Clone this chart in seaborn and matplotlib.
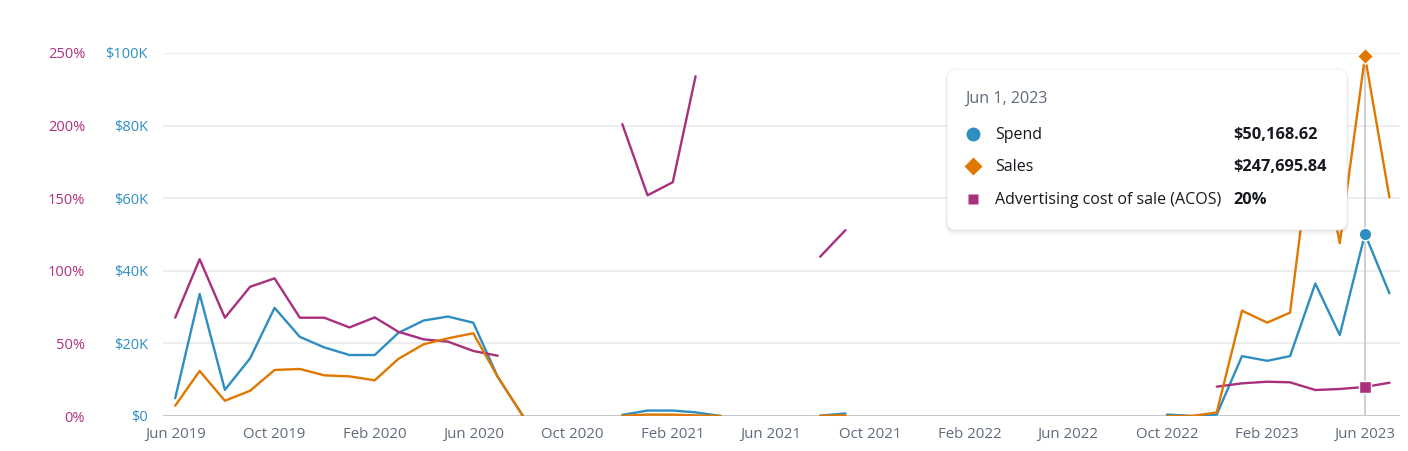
import numpy as np
import pandas as pd
import matplotlib
matplotlib.use("Agg")
import matplotlib.pyplot as plt
from matplotlib.patches import FancyBboxPatch
import seaborn as sns

# ── Data ──────────────────────────────────────────────────────────────────────
months = pd.date_range("2019-06-01", "2023-07-01", freq="MS")
nan = np.nan

spend = [
    4900, 33600, 7200, 15900, 29800, 21800, 18900, 16800, 16800, 22900,
    26300, 27400, 25700, 10800, 0,
    nan, nan, nan,
    300, 1500, 1500, 1000, 0,
    nan, nan, nan,
    100, 700,
    nan, nan, nan, nan, nan, nan, nan, nan, nan, nan, nan, nan,
    400, 0, 400, 16500, 15200, 16500, 36500, 22300, 50168.62, 33800,
]
sales = [
    7100, 31000, 10500, 17400, 31700, 32400, 28000, 27300, 24600, 39300,
    49400, 53500, 57000, 27000, 0,
    nan, nan, nan,
    150, 1000, 930, 430, 0,
    nan, nan, nan,
    100, 550,
    nan, nan, nan, nan, nan, nan, nan, nan, nan, nan, nan, nan,
    0, 0, 2500, 72500, 64300, 71200, 208000, 119000, 247695.84, 150600,
]
acos = [
    67.7, 108, 67.7, 89, 94.8, 67.7, 67.7, 61, 67.9, 58,
    52.8, 51.2, 44.8, 41.5, nan,
    nan, nan, nan,
    201, 152, 161, 234, nan,
    nan, nan, nan,
    109.7, 128,
    nan, nan, nan, nan, nan, nan, nan, nan, nan, nan, nan, nan,
    nan, nan, 20.2, 22.5, 23.6, 23.2, 17.9, 18.6, 20, 22.9,
]

spend_ticks = [0, 20000, 40000, 60000, 80000, 100000]
spend_labels = ["$0", "$20K", "$40K", "$60K", "$80K", "$100K"]
acos_ticks = [0, 50, 100, 150, 200, 250]
acos_labels = ["0%", "50%", "100%", "150%", "200%", "250%"]
SALES_MAX = 250000
hover = 48  # Jun 2023

BLUE = "#2e8ebf"
ORANGE = "#e07800"
MAGENTA = "#a8307c"
GRID = "#e9ebed"
TEXT_GRAY = "#5f6b7a"

df = pd.DataFrame({"month": months, "spend": spend, "sales": sales, "acos": acos})


def segments(col):
    """Split a series into runs between missing values so lines break at gaps"""
    d = df[["month", col]].copy()
    d["seg"] = d[col].isna().cumsum()
    return d.dropna()


# ── Figure ────────────────────────────────────────────────────────────────────
sns.set_theme(style="white")
plt.rcParams["font.family"] = ["Open Sans", "DejaVu Sans"]

fig = plt.figure(figsize=(14.08, 4.51), dpi=100)
ax = fig.add_axes([163 / 1408, 35 / 451, 1237 / 1408, 363 / 451])
ax_acos = ax.twinx()
ax_sales = ax.twinx()

for a in (ax, ax_acos, ax_sales):
    for s in a.spines.values():
        s.set_visible(False)
    a.patch.set_visible(False)

# gridlines + baseline
for t in spend_ticks[1:]:
    ax.axhline(t, color=GRID, lw=1.2, zorder=0)
ax.axhline(0, color="#c6c6cd", lw=2.2, zorder=0.5)

# hover guide line
ax.axvline(months[hover], ymin=0, ymax=sales[hover] / SALES_MAX,
           color="#c6c6cd", lw=1.2, zorder=0.6)

LW = 1.7
sns.lineplot(data=segments("spend"), x="month", y="spend", units="seg",
             estimator=None, color=BLUE, lw=LW, ax=ax)
sns.lineplot(data=segments("acos"), x="month", y="acos", units="seg",
             estimator=None, color=MAGENTA, lw=LW, ax=ax_acos)
sns.lineplot(data=segments("sales"), x="month", y="sales", units="seg",
             estimator=None, color=ORANGE, lw=LW, ax=ax_sales)

# hover markers
ax.plot(months[hover], spend[hover], "o", ms=9, color=BLUE, mec="white",
        mew=1, zorder=5, clip_on=False)
ax_acos.plot(months[hover], acos[hover], "s", ms=8, color=MAGENTA,
             mec="white", mew=1, zorder=5, clip_on=False)
ax_sales.plot(months[hover], sales[hover], "D", ms=8, color=ORANGE,
              mec="white", mew=1, zorder=5, clip_on=False)

# axes limits / ticks
ax.set_xlim(months[0] - pd.Timedelta(days=15), months[-1] + pd.Timedelta(days=13))
ax.set_ylim(0, 100000)
ax_acos.set_ylim(0, 250)
ax_sales.set_ylim(0, SALES_MAX)

ax.set_xticks(months[::4])
ax.set_xticklabels([m.strftime("%b %Y") for m in months[::4]])
ax.set_yticks(spend_ticks)
ax.set_yticklabels(spend_labels)
ax.tick_params(axis="x", length=0, pad=8, labelsize=10.8, labelcolor=TEXT_GRAY)
ax.tick_params(axis="y", length=0, pad=11, labelsize=10.5, labelcolor="#2f8fc2")

ax_acos.yaxis.set_ticks_position("left")
ax_acos.set_yticks(acos_ticks)
ax_acos.set_yticklabels(acos_labels)
ax_acos.tick_params(axis="y", length=0, pad=56, labelsize=10.5, labelcolor="#b0307f")

ax_sales.set_yticks([])
for a in (ax, ax_acos, ax_sales):
    a.set_xlabel("")
    a.set_ylabel("")

# ── Tooltip overlay (pixel coordinates) ──────────────────────────────────────
tip = fig.add_axes([0, 0, 1, 1], zorder=10)
tip.set_xlim(0, 1408)
tip.set_ylim(451, 0)
tip.axis("off")
tip.patch.set_visible(False)

for off, alpha in ((4, 0.025), (2.5, 0.035), (1, 0.05)):
    tip.add_patch(FancyBboxPatch((947 - off * 0.5, 69 + off * 0.3), 400 + off, 161 + off,
                                 boxstyle="round,pad=0,rounding_size=10",
                                 fc="#000000", ec="none", alpha=alpha))
tip.add_patch(FancyBboxPatch((947, 69), 400, 161,
                             boxstyle="round,pad=0,rounding_size=9",
                             fc="white", ec="#eceef0", lw=0.6))

tip.text(965, 99, f"{months[hover].strftime('%b')} {months[hover].day}, {months[hover].year}",
         fontsize=11.6, color=TEXT_GRAY, va="center", ha="left")

rows = [
    ("o", BLUE, 10, "Spend", f"${spend[hover]:,.2f}", 134),
    ("D", ORANGE, 9, "Sales", f"${sales[hover]:,.2f}", 166),
    ("s", MAGENTA, 7.5, "Advertising cost of sale (ACOS)", f"{acos[hover]:.0f}%", 199),
]
for marker, color, ms, label, value, y in rows:
    tip.plot(973, y, marker, ms=ms, color=color, mec="none")
    tip.text(995, y + 1, label, fontsize=11.5, color="#16191f", va="center", ha="left")
    tip.text(1233, y + 1, value, fontsize=11.8, color="#16191f", va="center",
             ha="left", fontweight="bold")

fig.savefig("out.png", dpi=100)
